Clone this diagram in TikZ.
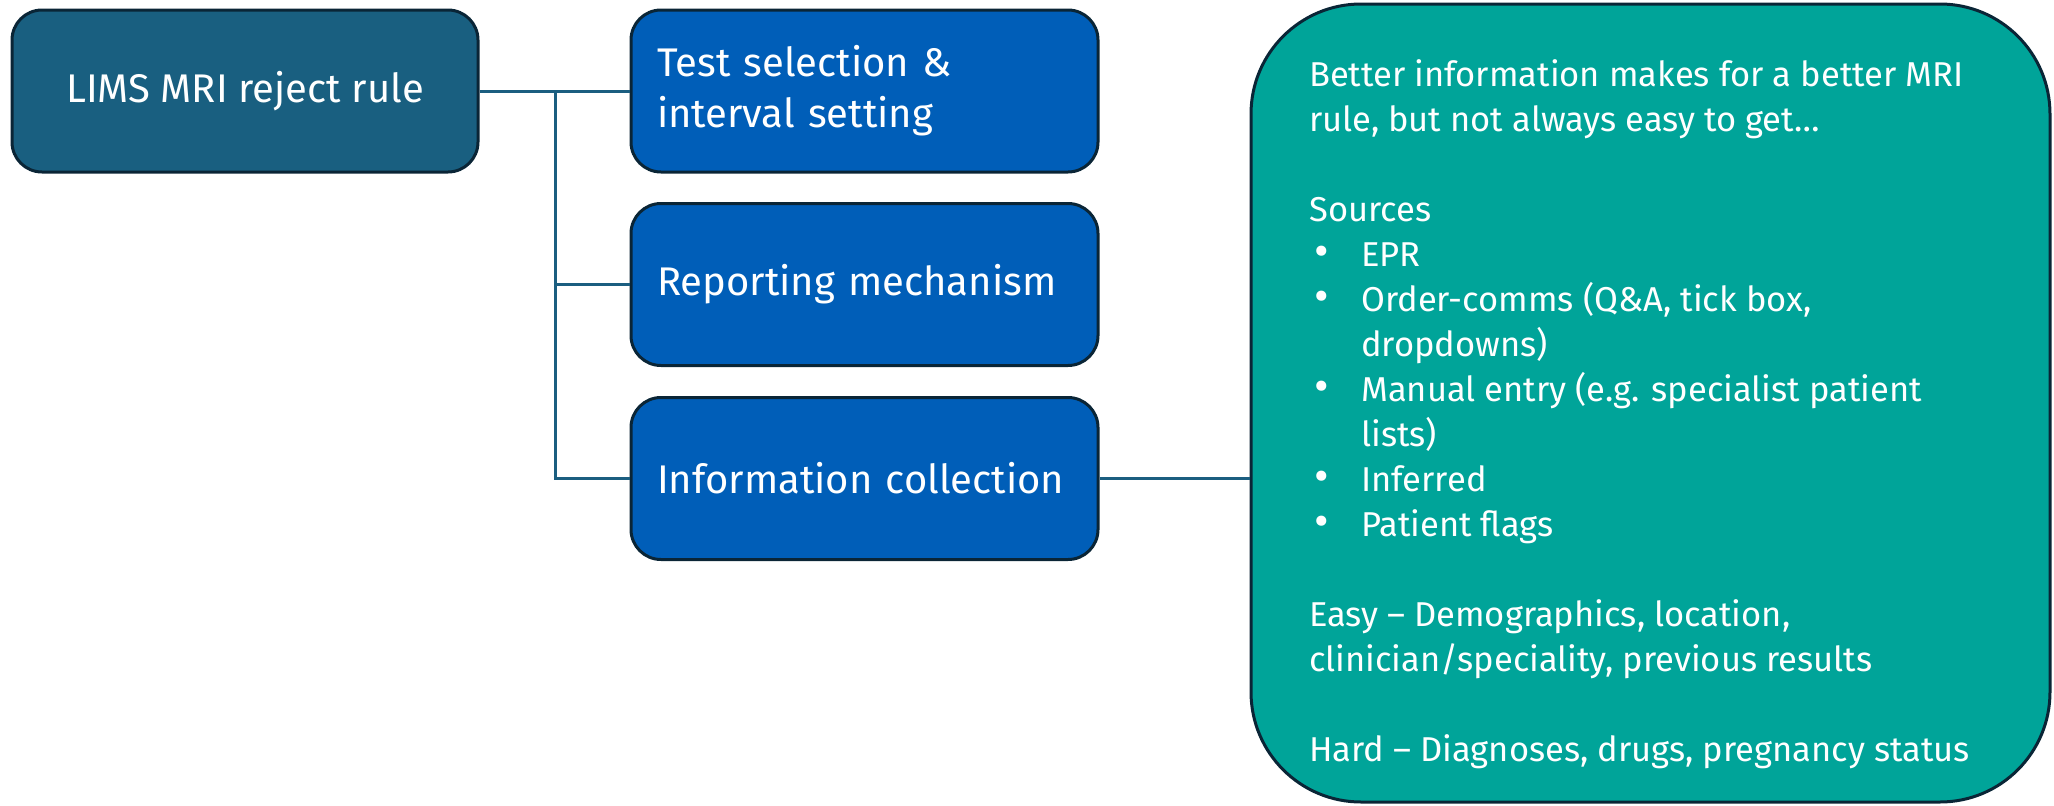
\documentclass[tikz,border=0pt]{standalone}
\usepackage{fontspec}
\setmainfont{Fira Sans}
\definecolor{rootfill}{HTML}{195F80}
\definecolor{boxfill}{HTML}{005EB8}
\definecolor{bigfill}{HTML}{00A499}
\definecolor{edge}{HTML}{0A2536}
\definecolor{conncol}{HTML}{1B5E80}
\tikzset{
  rootbox/.style={draw=edge, line width=3pt, fill=rootfill, rounded corners=30pt,
    minimum width=466pt, minimum height=162pt, inner sep=0pt, text=white, align=center,
    font=\fontsize{40}{51}\selectfont},
  stagebox/.style={draw=edge, line width=3pt, fill=boxfill, rounded corners=30pt,
    minimum width=467pt, minimum height=162pt, inner xsep=26pt, inner ysep=0pt,
    text width=415pt, text=white, align=left, font=\fontsize{40}{51}\selectfont},
  bigbox/.style={draw=edge, line width=3pt, fill=bigfill, rounded corners=110pt,
    minimum width=799pt, minimum height=798pt, inner sep=0pt},
  conn/.style={draw=conncol, line width=3pt},
  bigtext/.style={text=white, inner sep=0pt, anchor=base west}
}
\newcommand{\blt}[1]{\makebox[52pt][l]{\hspace{5pt}\scalebox{1.3}{•}}#1}
\newcommand{\cnt}[1]{\hspace*{52pt}#1}
\begin{document}
\begin{tikzpicture}[x=1pt,y=-1pt]
\useasboundingbox (0,0) rectangle (2054,806);
\node[rootbox] (root) at (245,91) {LIMS MRI reject rule};
\node[stagebox] (test) at (864.5,91) {Test selection \&\\interval setting};
\node[stagebox] (report) at (864.5,284.5) {Reporting mechanism};
\node[stagebox] (info) at (864.5,478.5) {Information collection};
\node[bigbox] (big) at (1650.5,403) {};
\node[bigtext] (bigtxt) at (1309,86) {\parbox[t]{730pt}{\raggedright\fontsize{34.5}{45}\selectfont
Better information makes for a better MRI\\
rule, but not always easy to get…\\[45pt]
Sources\\
\blt{EPR}\\
\blt{Order-comms (Q\&A, tick box,}\\
\cnt{dropdowns)}\\
\blt{Manual entry (e.g. specialist patient}\\
\cnt{lists)}\\
\blt{Inferred}\\
\blt{Patient flags}\\[45pt]
Easy – Demographics, location,\\
clinician/speciality, previous results\\[45pt]
Hard – Diagnoses, drugs, pregnancy status}};
\coordinate (trunk) at (555,91);
\draw[conn] (root.east) -- (test.west);
\draw[conn] (trunk) |- (report.west);
\draw[conn] (trunk) |- (info.west);
\draw[conn] (info.east) -- (info.east -| big.west);
\end{tikzpicture}
\end{document}
